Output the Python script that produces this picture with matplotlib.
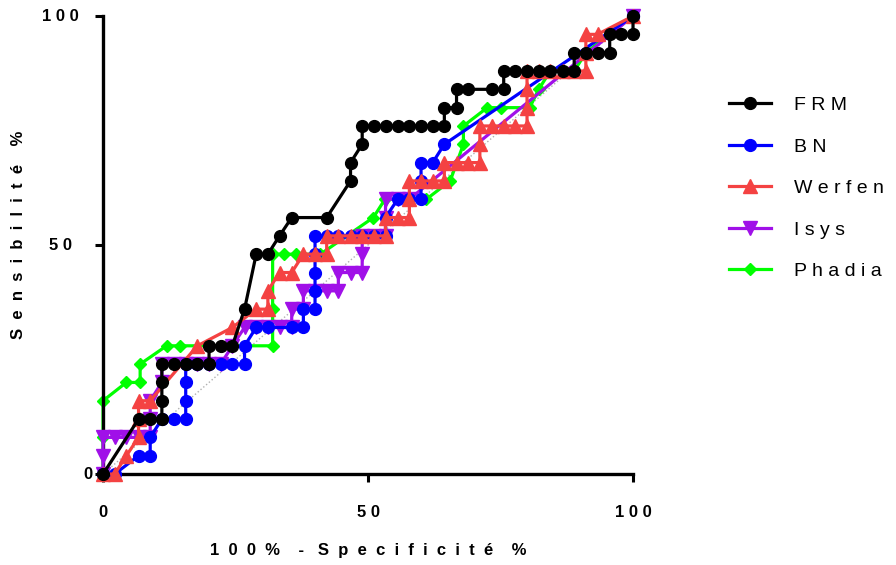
import matplotlib
matplotlib.use('Agg')
import matplotlib.pyplot as plt
import matplotlib.transforms as mtransforms

plt.rcParams['font.family'] = ['Liberation Sans', 'DejaVu Sans']

# ROC curves: 100% - specificity (x) vs sensitivity (y), in %
frm_x = [0, 6.7, 8.9, 11.1, 11.1, 11.1, 11.1, 13.3, 15.6, 17.8, 20.0, 20.0, 22.2, 24.4, 26.7,
         28.9, 31.1, 33.3, 35.6, 42.2, 46.7, 46.7, 48.9, 48.9, 51.1, 53.3, 55.6, 57.8, 60.0,
         62.2, 64.4, 64.4, 66.7, 66.7, 68.9, 73.3, 75.6, 75.6, 77.8, 80.0, 82.2, 84.4, 86.7,
         88.9, 88.9, 91.1, 93.3, 95.6, 95.6, 97.8, 100, 100]
frm_y = [0, 12, 12, 12, 16, 20, 24, 24, 24, 24, 24, 28, 28, 28, 36,
         48, 48, 52, 56, 56, 64, 68, 72, 76, 76, 76, 76, 76, 76,
         76, 76, 80, 80, 84, 84, 84, 84, 88, 88, 88, 88, 88, 88,
         88, 92, 92, 92, 92, 96, 96, 96, 100]

bn_x = [0, 2.2, 6.7, 8.9, 8.9, 11.1, 13.3, 15.6, 15.6, 15.6, 15.6, 17.8, 20.0, 22.2, 24.4,
        26.7, 26.7, 28.9, 31.1, 35.6, 37.8, 37.8, 40.0, 40.0, 40.0, 40.0, 40.0, 42.2, 44.4,
        46.7, 48.9, 51.1, 53.3, 53.3, 55.6, 57.8, 60.0, 60.0, 60.0, 62.2, 64.4, 100]
bn_y = [0, 0, 4, 4, 8, 12, 12, 12, 16, 20, 24, 24, 24, 24, 24,
        24, 28, 32, 32, 32, 32, 36, 36, 40, 44, 48, 52, 52, 52,
        52, 52, 52, 52, 56, 60, 60, 60, 64, 68, 68, 72, 100]

werfen_x = [0, 2.2, 4.4, 6.7, 6.7, 6.7, 8.9, 17.8, 24.4, 28.9, 31.1, 31.1, 33.3, 35.6, 37.8,
            40.0, 42.2, 42.2, 44.4, 46.7, 48.9, 51.1, 53.3, 53.3, 55.6, 57.8, 57.8, 57.8,
            60.0, 62.2, 64.4, 64.4, 66.7, 68.9, 71.1, 71.1, 71.1, 73.3, 75.6, 77.8, 80.0,
            80.0, 80.0, 80.0, 82.2, 84.4, 86.7, 88.9, 91.1, 91.1, 91.1, 93.3, 100]
werfen_y = [0, 0, 4, 8, 12, 16, 16, 28, 32, 36, 36, 40, 44, 44, 48,
            48, 48, 52, 52, 52, 52, 52, 52, 56, 56, 56, 60, 64,
            64, 64, 64, 68, 68, 68, 68, 72, 76, 76, 76, 76, 76,
            80, 84, 88, 88, 88, 88, 88, 88, 92, 96, 96, 100]

isys_x = [0, 0, 0, 2.2, 4.4, 6.7, 8.9, 8.9, 8.9, 11.1, 11.1, 13.3, 15.6, 17.8, 20.0, 22.2,
          24.4, 26.7, 28.9, 31.1, 33.3, 35.6, 35.6, 37.8, 37.8, 40.0, 42.2, 44.4, 44.4,
          46.7, 48.9, 48.9, 48.9, 51.1, 53.3, 53.3, 53.3, 55.6, 57.8, 100]
isys_y = [0, 4, 8, 8, 8, 8, 8, 12, 16, 20, 24, 24, 24, 24, 24, 24,
          28, 32, 32, 32, 32, 32, 36, 36, 40, 40, 40, 40, 44,
          44, 44, 48, 52, 52, 52, 56, 60, 60, 60, 100]

phadia_x = [0, 0, 0, 4.4, 7.0, 7.0, 12.0, 14.5, 32.0, 32.0, 32.0, 34.2, 36.4, 41.0, 51.0,
            53.2, 61.0, 65.5, 68.0, 68.0, 72.5, 75.0, 80.5, 82.2, 84.4, 88.9, 91.1, 100]
phadia_y = [0, 8, 16, 20, 20, 24, 28, 28, 28, 36, 48, 48, 48, 48, 56,
            60, 60, 64, 72, 76, 80, 80, 80, 84, 88, 88, 92, 100]

ticks = [0, 50, 100]
tick_labels = ['0', '5 0', '1 0 0']

fig = plt.figure(figsize=(8.96, 5.65), dpi=100)
ax = fig.add_axes([0.115, 0.161, 0.5915, 0.8106])

# reference diagonal
ax.plot([0, 100], [0, 100], linestyle=':', color='#b0b0b0', linewidth=1, zorder=1)

series = [
    ('F R M', frm_x, frm_y, 'black', 'o', 8.5, 6),
    ('B N', bn_x, bn_y, '#0000ff', 'o', 8.5, 4),
    ('W e r f e n', werfen_x, werfen_y, '#f44242', '^', 9.5, 5),
    ('I s y s', isys_x, isys_y, '#a010e8', 'v', 9.5, 3),
    ('P h a d i a', phadia_x, phadia_y, '#00ff00', 'D', 6.5, 2),
]
for label, xs, ys, col, mk, ms, z in series:
    ax.plot(xs, ys, color=col, marker=mk, markersize=ms, linewidth=2.3,
            label=label, zorder=z, clip_on=False)

ax.set_xlim(0, 100)
ax.set_ylim(0, 100)
ax.set_xticks(ticks)
ax.set_yticks(ticks)
ax.set_xticklabels(tick_labels, fontsize=12, fontweight='bold')
ax.set_yticklabels([])
ax.tick_params(width=2.2, length=6)
ax.tick_params(axis='x', pad=16)

# y tick labels placed like the original (Prism spacing)
ytrans = mtransforms.blended_transform_factory(fig.transFigure, ax.transData)
label_cx = [88 / 896, 60 / 896, 60 / 896]
for t, lab, cx in zip(ticks, tick_labels, label_cx):
    ax.text(cx, t, lab, transform=ytrans, ha='center', va='center',
            fontsize=12, fontweight='bold')

for side in ['top', 'right']:
    ax.spines[side].set_visible(False)
for side in ['left', 'bottom']:
    ax.spines[side].set_linewidth(2.4)

ax.set_xlabel('1  0  0  %    -   S  p  e  c  i  f  i  c  i  t  é    %',
              fontsize=12, fontweight='bold', labelpad=17)
fig.text(19 / 896, 0.585, 'S  e  n  s  i  b  i  l  i  t  é    %', rotation=90,
         ha='center', va='center', fontsize=12, fontweight='bold')

fig.legend(loc='upper left', bbox_to_anchor=(729 / 896, 1 - 96.5 / 565), frameon=False,
           fontsize=14, handlelength=2.15, handletextpad=1.2, labelspacing=1.23,
           borderpad=0, borderaxespad=0)

plt.savefig('out.png', dpi=100)
plt.close()
